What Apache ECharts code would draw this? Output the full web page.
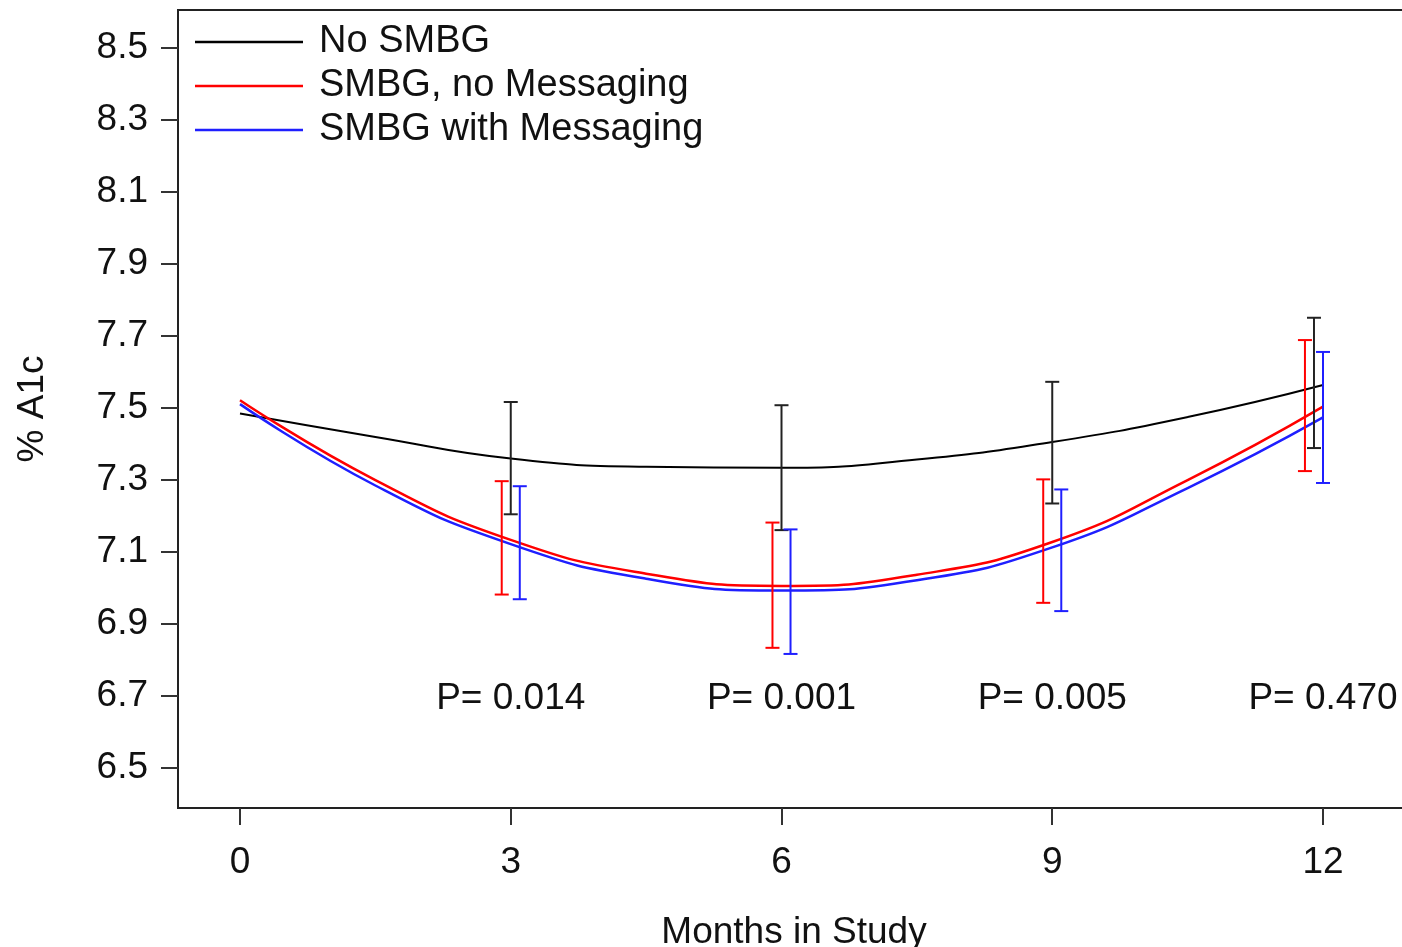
<!DOCTYPE html>
<html lang="en">
<head>
    <meta charset="UTF-8">
    <title>% A1c by months in study</title>
    <script src="https://cdn.jsdelivr.net/npm/echarts@6/dist/echarts.min.js"></script>
    <style>
        html, body { margin: 0; padding: 0; background: #fff; }
    </style>
</head>
<body>
    <div id="chart" style="width:1402px;height:947px;"></div>

    <script>
        // fitted curves
        var months = [0, 1.5, 3, 4.5, 6, 7.5, 9, 10.5, 12];
        var noSmbg = [7.485, 7.420, 7.360, 7.337, 7.334, 7.357, 7.406, 7.475, 7.564];
        var smbgNoMsg = [7.522, 7.300, 7.134, 7.040, 7.006, 7.037, 7.128, 7.300, 7.504];
        var smbgMsg = [7.511, 7.285, 7.122, 7.026, 6.993, 7.022, 7.113, 7.278, 7.474];

        // error bars (x is where each bar is drawn, slightly dodged)
        var noSmbgErrX = [3, 6, 9, 11.9];
        var noSmbgLow = [7.205, 7.161, 7.235, 7.389];
        var noSmbgHigh = [7.517, 7.508, 7.573, 7.751];
        var noMsgErrX = [2.9, 5.9, 8.9, 11.8];
        var noMsgLow = [6.982, 6.834, 6.959, 7.325];
        var noMsgHigh = [7.297, 7.182, 7.302, 7.689];
        var msgErrX = [3.1, 6.1, 9.1, 12.0];
        var msgLow = [6.969, 6.817, 6.936, 7.292];
        var msgHigh = [7.283, 7.163, 7.274, 7.656];

        // p values
        var pMonths = [3, 6, 9, 12];
        var pLabels = ['P= 0.014', 'P= 0.001', 'P= 0.005', 'P= 0.470'];
        var pLevel = 6.692;

        var xTicks = [0, 3, 6, 9, 12];
        var yTicks = [6.5, 6.7, 6.9, 7.1, 7.3, 7.5, 7.7, 7.9, 8.1, 8.3, 8.5];

        var FONT = '"Liberation Sans", Arial, Helvetica, sans-serif';
        var TEXT = '#111';

        function zip(xs, ys) {
            return xs.map(function (x, i) { return [x, ys[i]]; });
        }
        function errData(xs, lo, hi) {
            return xs.map(function (x, i) { return [x, lo[i], hi[i]]; });
        }

        function lineSeries(name, values, color, width) {
            return {
                name: name,
                type: 'line',
                data: zip(months, values),
                smooth: true,
                symbol: 'none',
                lineStyle: { color: color, width: width },
                itemStyle: { color: color },
                z: 2
            };
        }

        function errSeries(name, data, color) {
            return {
                name: name,
                type: 'custom',
                data: data,
                clip: false,
                z: 3,
                renderItem: function (params, api) {
                    var x = api.value(0);
                    var lo = api.coord([x, api.value(1)]);
                    var hi = api.coord([x, api.value(2)]);
                    var hw = 7;
                    var style = { stroke: color, lineWidth: 2 };
                    return {
                        type: 'group',
                        children: [
                            { type: 'line', shape: { x1: lo[0], y1: lo[1], x2: hi[0], y2: hi[1] }, style: style },
                            { type: 'line', shape: { x1: hi[0] - hw, y1: hi[1], x2: hi[0] + hw, y2: hi[1] }, style: style },
                            { type: 'line', shape: { x1: lo[0] - hw, y1: lo[1], x2: lo[0] + hw, y2: lo[1] }, style: style }
                        ]
                    };
                }
            };
        }

        var chart = echarts.init(document.getElementById('chart'));

        var option = {
            animation: false,
            backgroundColor: '#fff',
            textStyle: { fontFamily: FONT },
            grid: {
                left: 178,
                right: -20,
                top: 10,
                bottom: 139,
                outerBoundsMode: 'none',
                containLabel: false,
                show: true,
                borderColor: '#222',
                borderWidth: 2
            },
            legend: {
                data: ['No SMBG', 'SMBG, no Messaging', 'SMBG with Messaging'],
                orient: 'vertical',
                left: 195,
                top: 20,
                padding: 0,
                icon: 'rect',
                itemWidth: 108,
                itemHeight: 2.5,
                itemGap: 0,
                textStyle: {
                    fontFamily: FONT,
                    fontSize: 38,
                    color: TEXT,
                    lineHeight: 44,
                    padding: [0, 0, 0, 11]
                }
            },
            xAxis: {
                type: 'value',
                min: -0.687,
                max: 13.097,
                name: 'Months in Study',
                nameLocation: 'middle',
                nameGap: 106,
                nameTextStyle: { fontFamily: FONT, fontSize: 37, color: TEXT, padding: [0, 12, 0, 0] },
                axisLine: { onZero: false, lineStyle: { color: '#222', width: 2 } },
                axisTick: { customValues: xTicks, length: 17, lineStyle: { color: '#333', width: 2 } },
                axisLabel: {
                    customValues: xTicks,
                    margin: 36,
                    fontFamily: FONT,
                    fontSize: 37,
                    color: TEXT
                },
                splitLine: { show: false }
            },
            yAxis: {
                type: 'value',
                min: 6.389,
                max: 8.606,
                name: '% A1c',
                nameLocation: 'middle',
                nameRotate: 90,
                nameGap: 127,
                nameTextStyle: { fontFamily: FONT, fontSize: 37, color: TEXT },
                axisLine: { show: true, onZero: false, lineStyle: { color: '#222', width: 2 } },
                axisTick: { show: true, customValues: yTicks, length: 17, lineStyle: { color: '#333', width: 2 } },
                axisLabel: {
                    customValues: yTicks,
                    margin: 30,
                    fontFamily: FONT,
                    fontSize: 37,
                    color: TEXT,
                    formatter: function (v) { return v.toFixed(1); }
                },
                splitLine: { show: false }
            },
            series: [
                lineSeries('No SMBG', noSmbg, '#000000', 2),
                lineSeries('SMBG, no Messaging', smbgNoMsg, '#ff0000', 2.5),
                lineSeries('SMBG with Messaging', smbgMsg, '#1f1fff', 2.5),
                errSeries('err no smbg', errData(noSmbgErrX, noSmbgLow, noSmbgHigh), '#222'),
                errSeries('err no msg', errData(noMsgErrX, noMsgLow, noMsgHigh), '#ff0000'),
                errSeries('err msg', errData(msgErrX, msgLow, msgHigh), '#1f1fff'),
                {
                    name: 'p values',
                    type: 'custom',
                    data: pMonths.map(function (m, i) { return [m, pLevel, i]; }),
                    clip: false,
                    renderItem: function (params, api) {
                        var p = api.coord([api.value(0), api.value(1)]);
                        return {
                            type: 'text',
                            x: p[0],
                            y: p[1],
                            style: {
                                text: pLabels[api.value(2)],
                                fontFamily: FONT,
                                fontSize: 37,
                                fill: TEXT,
                                align: 'center',
                                verticalAlign: 'middle'
                            }
                        };
                    }
                }
            ]
        };

        chart.setOption(option);
    </script>
</body>
</html>
